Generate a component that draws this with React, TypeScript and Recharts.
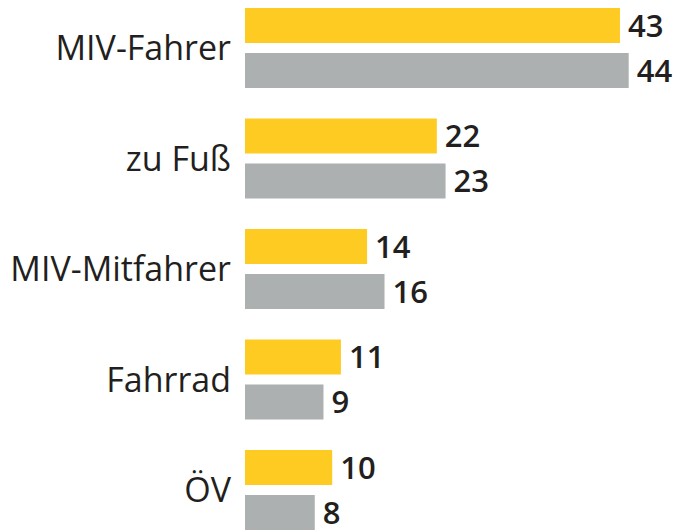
import React from 'react';
import { BarChart, Bar, XAxis, YAxis, LabelList } from 'recharts';

const categories = ['MIV-Fahrer', 'zu Fuß', 'MIV-Mitfahrer', 'Fahrrad', 'ÖV'];
const seriesA = [43, 22, 14, 11, 10];
const seriesB = [44, 23, 16, 9, 8];

const data = categories.map((name, i) => ({ name, a: seriesA[i], b: seriesB[i] }));

const FONT = '"Open Sans", "Noto Sans", sans-serif';
const labelStyle = { fontSize: 31, fontWeight: 600, fill: '#231f20', fontFamily: FONT };

export default function App() {
  return (
    <div style={{ position: 'fixed', left: 0, top: 0, width: 681, height: 530, overflow: 'hidden', background: '#fff' }}>
      <div style={{ position: 'absolute', left: 0, top: -7 }}>
        <BarChart
          width={681}
          height={560}
          data={data}
          layout="vertical"
          margin={{ top: 0, right: 0, bottom: 7.5, left: 0 }}
          barGap={10}
          barSize={35}
        >
          <XAxis type="number" domain={[0, 50]} hide />
          <YAxis
            type="category"
            dataKey="name"
            width={245}
            axisLine={false}
            tickLine={false}
            tickSize={0}
            tickMargin={14}
            tick={{ fontSize: 34, fill: '#231f20', fontFamily: FONT }}
          />
          <Bar dataKey="a" fill="#fecb22" isAnimationActive={false}>
            <LabelList dataKey="a" position="right" offset={8} style={labelStyle} />
          </Bar>
          <Bar dataKey="b" fill="#acb0b0" isAnimationActive={false}>
            <LabelList dataKey="b" position="right" offset={8} style={labelStyle} />
          </Bar>
        </BarChart>
      </div>
    </div>
  );
}
